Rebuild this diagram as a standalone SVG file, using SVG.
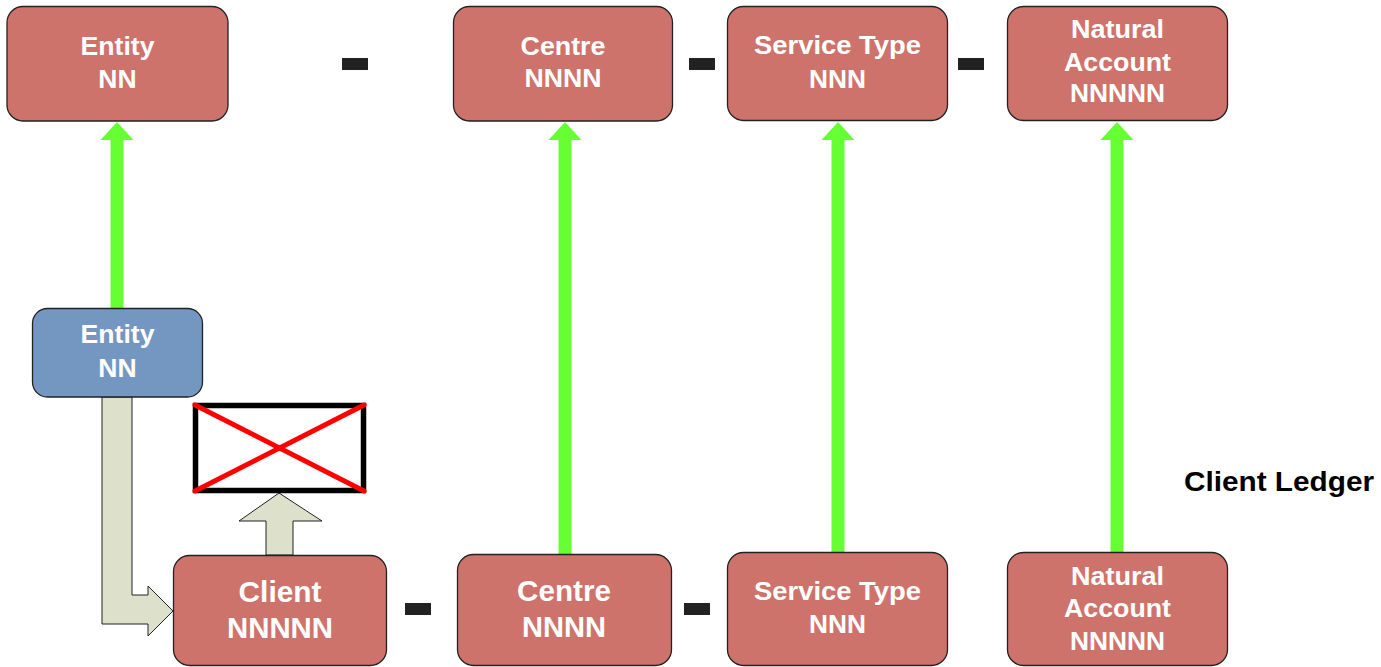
<svg xmlns="http://www.w3.org/2000/svg" width="1381" height="667" viewBox="0 0 1381 667">
<style>
.red{fill:#CD736B;stroke:#222;stroke-width:1.3}
.blue{fill:#7397C1;stroke:#222;stroke-width:1.3}
.t{font-family:"Liberation Sans",Arial,sans-serif;font-weight:bold;fill:#fff;text-anchor:middle;font-size:26.5px}
.tb{font-size:30px}
.dash{fill:#222}
.green{fill:#66FF33}
.beige{fill:#DDE1CB;stroke:#222;stroke-width:1}
</style>
<rect width="1381" height="667" fill="#fff"/>
<g id="connectors">
<path class="green" d="M117,122 L133.5,140 L123.5,140 L123.5,308 L110.5,308 L110.5,140 L100.5,140 Z"/>
<path class="green" d="M565,122 L581.5,140 L571.5,140 L571.5,554 L558.5,554 L558.5,140 L548.5,140 Z"/>
<path class="green" d="M838,122 L854.5,140 L844.5,140 L844.5,552 L831.5,552 L831.5,140 L821.5,140 Z"/>
<path class="green" d="M1117,122 L1133.5,140 L1123.5,140 L1123.5,552 L1110.5,552 L1110.5,140 L1100.5,140 Z"/>
<path class="beige" d="M102,397 L132,397 L132,595 L148,595 L148,586 L173,611 L148,636 L148,624 L102,624 Z"/>
<path class="beige" d="M266,555 L266,521 L239,521 L279,493 L322,521 L293,521 L293,555 Z"/>
</g>
<g id="dashes">
<rect class="dash" x="342" y="58" width="26" height="12"/>
<rect class="dash" x="689" y="58" width="26" height="12"/>
<rect class="dash" x="958" y="58" width="26" height="12"/>
<rect class="dash" x="405" y="603" width="26" height="12"/>
<rect class="dash" x="684" y="603" width="26" height="12"/>
</g>
<g id="blocked">
<rect x="195.5" y="405.5" width="168" height="85" fill="#fff" stroke="#000" stroke-width="5.5"/>
<line x1="195" y1="405" x2="364" y2="491" stroke="#FF0000" stroke-width="5" stroke-linecap="round"/>
<line x1="364" y1="405" x2="195" y2="491" stroke="#FF0000" stroke-width="5" stroke-linecap="round"/>
</g>
<g id="top-entity">
<rect class="red" x="7" y="6.5" width="221" height="114.5" rx="16"/>
<text class="t" x="117.5" y="55" textLength="74" lengthAdjust="spacingAndGlyphs">Entity</text>
<text class="t" x="117.5" y="88">NN</text>
</g>
<g id="top-centre">
<rect class="red" x="453.5" y="6.5" width="219" height="114.5" rx="16"/>
<text class="t" x="563" y="55" textLength="85" lengthAdjust="spacingAndGlyphs">Centre</text>
<text class="t" x="563" y="87" textLength="77" lengthAdjust="spacingAndGlyphs">NNNN</text>
</g>
<g id="top-service">
<rect class="red" x="727.5" y="6.5" width="220" height="114" rx="16"/>
<text class="t" x="837.5" y="54" textLength="167" lengthAdjust="spacingAndGlyphs">Service Type</text>
<text class="t" x="837.5" y="88" textLength="57" lengthAdjust="spacingAndGlyphs">NNN</text>
</g>
<g id="top-natural">
<rect class="red" x="1007.5" y="6.5" width="220" height="114" rx="16"/>
<text class="t" x="1117.5" y="38" textLength="93" lengthAdjust="spacingAndGlyphs">Natural</text>
<text class="t" x="1117.5" y="71" textLength="107" lengthAdjust="spacingAndGlyphs">Account</text>
<text class="t" x="1117.5" y="102" textLength="95" lengthAdjust="spacingAndGlyphs">NNNNN</text>
</g>
<g id="blue-entity">
<rect class="blue" x="32.5" y="308.5" width="170" height="88.5" rx="15"/>
<text class="t" x="117.5" y="343" textLength="74" lengthAdjust="spacingAndGlyphs">Entity</text>
<text class="t" x="117.5" y="377">NN</text>
</g>
<g id="bottom-client">
<rect class="red" x="173.5" y="555.5" width="213" height="110" rx="16"/>
<text class="t tb" x="280" y="602" textLength="83" lengthAdjust="spacingAndGlyphs">Client</text>
<text class="t tb" x="280" y="638" textLength="106" lengthAdjust="spacingAndGlyphs">NNNNN</text>
</g>
<g id="bottom-centre">
<rect class="red" x="457.5" y="554.5" width="214" height="111" rx="16"/>
<text class="t tb" x="564" y="601" textLength="94" lengthAdjust="spacingAndGlyphs">Centre</text>
<text class="t tb" x="564" y="637" textLength="84" lengthAdjust="spacingAndGlyphs">NNNN</text>
</g>
<g id="bottom-service">
<rect class="red" x="727.5" y="552.5" width="220" height="113" rx="16"/>
<text class="t" x="837.5" y="600" textLength="167" lengthAdjust="spacingAndGlyphs">Service Type</text>
<text class="t" x="837.5" y="633" textLength="57" lengthAdjust="spacingAndGlyphs">NNN</text>
</g>
<g id="bottom-natural">
<rect class="red" x="1007.5" y="552.5" width="220" height="113" rx="16"/>
<text class="t" x="1117.5" y="585" textLength="93" lengthAdjust="spacingAndGlyphs">Natural</text>
<text class="t" x="1117.5" y="617" textLength="107" lengthAdjust="spacingAndGlyphs">Account</text>
<text class="t" x="1117.5" y="650" textLength="95" lengthAdjust="spacingAndGlyphs">NNNNN</text>
</g>
<g id="label">
<text x="1184" y="491" font-family="Liberation Sans, Arial, sans-serif" font-weight="bold" font-size="27" fill="#000" textLength="190" lengthAdjust="spacingAndGlyphs">Client Ledger</text>
</g>
</svg>
